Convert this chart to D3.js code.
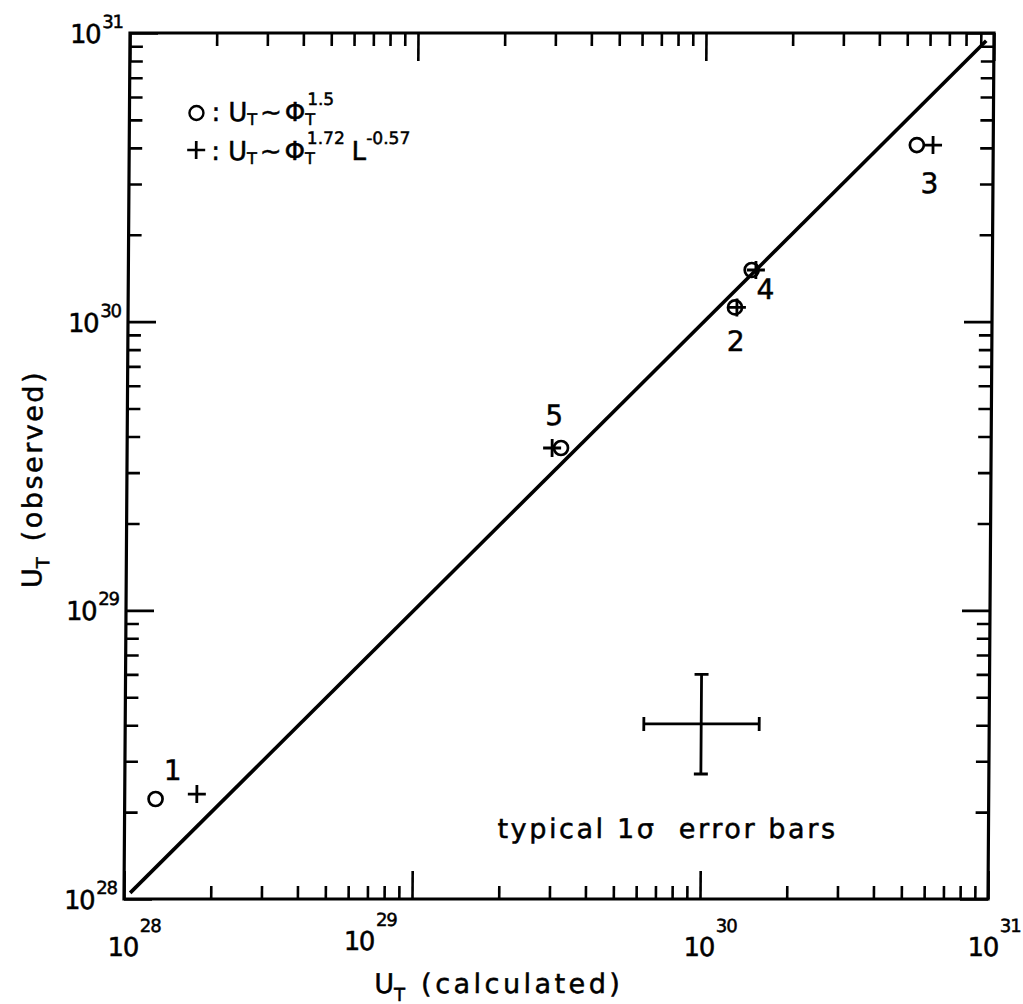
<!DOCTYPE html>
<html>
<head>
<meta charset="utf-8">
<script src="https://cdn.jsdelivr.net/npm/d3@7"></script>
<style>
  body { margin: 0; background: #fff; }
  text { font-family: "DejaVu Sans", sans-serif; fill: #000; stroke: #000; stroke-width: 0.5; }
</style>
</head>
<body>
<script>
// decade exponents on both axes
let decades = [28, 29, 30, 31];

// numbered points
let pointIds = ["1", "2", "3", "4", "5"];
// circles: U_T ~ Phi_T^1.5
let calcCircle = [1.28e28, 1.28e30, 5.43e30, 1.46e30, 3.21e29];
let obsCircle = [2.22e28, 1.12e30, 4.09e30, 1.51e30, 3.65e29];
// plus: U_T ~ Phi_T^1.72 L^-0.57
let calcPlus = [1.78e28, 1.30e30, 6.18e30, 1.51e30, 2.99e29];
let obsPlus = [2.31e28, 1.12e30, 4.09e30, 1.51e30, 3.65e29];

// y = x line
let lineEnds = [1.05e28, 9.4e30];

// typical 1 sigma error bars
let errCenter = [1.0e30, 4.04e28];
let errCalc = [6.32e29, 1.59e30];
let errObs = [2.71e28, 6.0e28];

let width = 1023;
let height = 1004;
let plotLeft = 124, plotRight = 988, plotTop = 33, plotBottom = 899;
let minorLen = 13, majorLen = 28;

// label offsets (px) from each circle marker
let labelOffset = {
  "1": [17, -29],
  "2": [1, 33],
  "3": [13, 38],
  "4": [14, 19],
  "5": [-7, -33],
};

let svg = d3
  .select("body")
  .append("svg")
  .attr("width", width)
  .attr("height", height);

// the scan is slightly sheared, mimic it
let k = 0.00694;
let g = svg
  .append("g")
  .attr("transform", `translate(${k * plotBottom},0) skewX(${(-Math.atan(k) * 180) / Math.PI})`);

let x = d3.scaleLog().domain([1e28, 1e31]).range([plotLeft, plotRight]);
let y = d3.scaleLog().domain([1e28, 1e31]).range([plotBottom, plotTop]);

let isMajor = (v) => Math.abs(Math.log10(v) - Math.round(Math.log10(v))) < 1e-6;
let minorTicks = x.ticks().filter((v) => !isMajor(v));
let majorTicks = decades.map((d) => Math.pow(10, d));

// ticks on all four sides, pointing inward
let sides = [
  { axis: d3.axisBottom(x), t: `translate(0,${plotBottom})` },
  { axis: d3.axisTop(x), t: `translate(0,${plotTop})` },
  { axis: d3.axisLeft(y), t: `translate(${plotLeft},0)` },
  { axis: d3.axisRight(y), t: `translate(${plotRight},0)` },
];
sides.forEach((s) => {
  [
    [minorTicks, minorLen],
    [majorTicks, majorLen],
  ].forEach(([vals, len]) => {
    let a = g
      .append("g")
      .attr("transform", s.t)
      .call(s.axis.tickValues(vals).tickSize(-len).tickFormat(""));
    a.select(".domain").remove();
    a.selectAll("line").attr("stroke", "#000").attr("stroke-width", 2.6);
  });
});

// frame
g.append("rect")
  .attr("x", plotLeft)
  .attr("y", plotTop)
  .attr("width", plotRight - plotLeft)
  .attr("height", plotBottom - plotTop)
  .attr("fill", "none")
  .attr("stroke", "#000")
  .attr("stroke-width", 3.2);

// tick labels
let xNudge = { 29: [-52, -6], 31: [-4, 0] };
decades.forEach((d) => {
  let nd = xNudge[d] || [0, 0];
  let t = g
    .append("text")
    .attr("x", x(Math.pow(10, d)) - 16 + nd[0])
    .attr("y", plotBottom + 57 + nd[1])
    .attr("font-size", 26);
  t.append("tspan").attr("letter-spacing", -1.5).text("10");
  t.append("tspan").attr("dx", 2).attr("dy", -24).attr("font-size", 18).attr("letter-spacing", -1).text(d);

  let u = g
    .append("text")
    .attr("x", plotLeft - 7)
    .attr("y", y(Math.pow(10, d)) + 10)
    .attr("text-anchor", "end")
    .attr("font-size", 26);
  u.append("tspan").attr("letter-spacing", -1.5).text("10");
  u.append("tspan").attr("dx", 2).attr("dy", -15).attr("font-size", 18).attr("letter-spacing", -1).text(d);
});

// axis titles
let xt = g
  .append("text")
  .attr("x", 375)
  .attr("y", 993)
  .attr("font-size", 27);
xt.append("tspan").text("U");
xt.append("tspan").attr("dy", 8).attr("font-size", 18).text("T");
xt.append("tspan").attr("dy", -8).attr("dx", 16).attr("letter-spacing", 3.5).text("(calculated)");

let yt = g
  .append("text")
  .attr("transform", "translate(39,588) rotate(-90)")
  .attr("font-size", 27);
yt.append("tspan").text("U");
yt.append("tspan").attr("dy", 8).attr("font-size", 18).text("T");
yt.append("tspan").attr("dy", -8).attr("dx", 16).attr("letter-spacing", 2.5).text("(observed)");

// y = x line
g.append("path")
  .datum(lineEnds)
  .attr("d", d3.line().x((d) => x(d)).y((d) => y(d)))
  .attr("stroke", "#000")
  .attr("stroke-width", 3.6)
  .attr("fill", "none");

// points
let pts = pointIds.map((id, i) => ({
  id: id,
  cx: calcCircle[i],
  cy: obsCircle[i],
  px: calcPlus[i],
  py: obsPlus[i],
}));

g.selectAll("circle.pt")
  .data(pts)
  .join("circle")
  .attr("class", "pt")
  .attr("cx", (d) => x(d.cx))
  .attr("cy", (d) => y(d.cy))
  .attr("r", 7)
  .attr("fill", "none")
  .attr("stroke", "#000")
  .attr("stroke-width", 2.7);

let arm = 9;
g.selectAll("path.plus")
  .data(pts)
  .join("path")
  .attr("class", "plus")
  .attr("d", (d) => {
    let px = x(d.px), py = y(d.py);
    return `M${px - arm},${py}H${px + arm}M${px},${py - arm}V${py + arm}`;
  })
  .attr("stroke", "#000")
  .attr("stroke-width", 2.8)
  .attr("fill", "none");

g.selectAll("text.lab")
  .data(pts)
  .join("text")
  .attr("class", "lab")
  .attr("x", (d) => x(d.cx) + labelOffset[d.id][0])
  .attr("y", (d) => y(d.cy) + labelOffset[d.id][1])
  .attr("dy", "0.36em")
  .attr("text-anchor", "middle")
  .attr("font-size", 28)
  .text((d) => d.id);

// error bar cross
let ex = x(errCenter[0]), ey = y(errCenter[1]);
let cap = 7;
let eb = g.append("g").attr("stroke", "#000").attr("stroke-width", 2.8).attr("fill", "none");
eb.append("path").attr(
  "d",
  `M${x(errCalc[0])},${ey}H${x(errCalc[1])}` +
    `M${x(errCalc[0])},${ey - cap}V${ey + cap}M${x(errCalc[1])},${ey - cap}V${ey + cap}`
);
eb.append("path").attr(
  "d",
  `M${ex},${y(errObs[0])}V${y(errObs[1])}` +
    `M${ex - cap},${y(errObs[0])}H${ex + cap}M${ex - cap},${y(errObs[1])}H${ex + cap}`
);

g.append("text")
  .attr("x", 497)
  .attr("y", 838)
  .attr("font-size", 27)
  .attr("letter-spacing", 2.6)
  .attr("xml:space", "preserve")
  .text("typical 1\u03c3  error bars");

// legend
let legend = g.append("g");
legend
  .append("circle")
  .attr("cx", 191)
  .attr("cy", 113)
  .attr("r", 7)
  .attr("fill", "none")
  .attr("stroke", "#000")
  .attr("stroke-width", 2.4);
legend
  .append("path")
  .attr("d", `M${191 - arm},150H${191 + arm}M191,${150 - arm}V${150 + arm}`)
  .attr("stroke", "#000")
  .attr("stroke-width", 2.7);

let formula = (sel, sup, extra) => {
  sel.append("tspan").text(":");
  sel.append("tspan").attr("dx", 8).text("U");
  sel.append("tspan").attr("dy", 4).attr("font-size", 16).text("T");
  sel.append("tspan").attr("dy", -4).attr("dx", 3).text("~");
  sel.append("tspan").attr("dx", 3).text("\u03a6");
  sel.append("tspan").attr("dy", 4).attr("font-size", 16).text("T");
  sel.append("tspan").attr("dx", -8).attr("dy", -20).attr("font-size", 17).text(sup);
  if (extra) {
    sel.append("tspan").attr("dx", 7).attr("dy", 16).text("L");
    sel.append("tspan").attr("dy", -16).attr("font-size", 17).text(extra);
  }
};
formula(legend.append("text").attr("x", 206).attr("y", 121).attr("font-size", 26), "1.5");
formula(legend.append("text").attr("x", 206).attr("y", 160).attr("font-size", 26), "1.72", "-0.57");
</script>
</body>
</html>
